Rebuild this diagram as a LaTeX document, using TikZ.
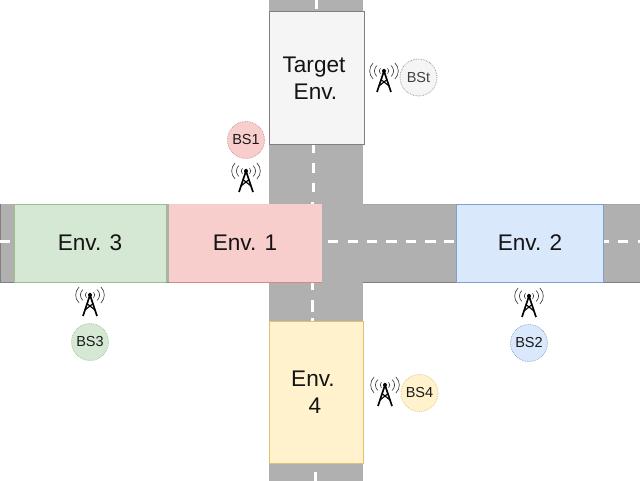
\documentclass[tikz,border=0pt]{standalone}
\usepackage{fontspec}
\setmainfont{Liberation Sans}
\definecolor{road}{HTML}{B0B0B0}
\definecolor{roadedge}{HTML}{7F7F7F}
\definecolor{gfill}{HTML}{D5E8D4}\definecolor{gline}{HTML}{9CC08A}
\definecolor{rfill}{HTML}{F8CECC}\definecolor{rline}{HTML}{D08A87}
\definecolor{bfill}{HTML}{DAE8FC}\definecolor{bline}{HTML}{7F9FCC}
\definecolor{yfill}{HTML}{FFF2CC}\definecolor{yline}{HTML}{DFC26E}
\definecolor{tfill}{HTML}{F5F5F5}
\tikzset{
  x=1pt,y=-1pt,
  roadfill/.style={fill=road,draw=none},
  dashw/.style={draw=white,line width=3pt},
  envbox/.style={rectangle,inner sep=0pt,anchor=north west,draw=#1,line width=0.8pt},
  envlabel/.style={font=\fontsize{22.6}{27}\selectfont,align=center,text=black!92,inner sep=0pt},
  bs/.style={circle,minimum size=37pt,inner sep=0pt,line width=0.7pt,densely dotted,font=\fontsize{14.5}{16}\selectfont,text=black!90},
  pics/tower/.style={code={
    \draw[black,line width=1.7pt,line join=miter] (-7,14) -- (0,-7) -- (7,14);
    \draw[black,line width=1.1pt] (-5,8) -- (2.5,2) (5,8) -- (-2.5,2);
    \fill[black] (0,-7) circle (2pt);
    \foreach \r in {4.5,9,13.5}{
      \draw[black!80,line width=0.6pt] ({-\r*.8},{-7-\r*.6}) .. controls ({-\r*1.15},{-7-\r*.25}) and ({-\r*1.15},{-7+\r*.25}) .. ({-\r*.8},{-7+\r*.6});
      \draw[black!80,line width=0.6pt] ({\r*.8},{-7-\r*.6}) .. controls ({\r*1.15},{-7-\r*.25}) and ({\r*1.15},{-7+\r*.25}) .. ({\r*.8},{-7+\r*.6});
    }
  }}
}
\begin{document}
\begin{tikzpicture}
\useasboundingbox (0,0) rectangle (640,481);
\fill[white] (0,0) rectangle (640,481);
% roads
\path[roadfill] (269,0) rectangle (363,481);
\path[roadfill] (0,204) rectangle (640,283);
\draw[roadedge,line width=1pt] (0,282.5) -- (269,282.5) (363,282.5) -- (640,282.5);
\draw[black!35,line width=0.8pt] (363,204.3) -- (456,204.3) (603,204.3) -- (640,204.3);
\draw[roadedge,line width=1pt] (0.5,204) -- (0.5,283);
% vertical dashes
\foreach \a/\b/\x in {0/9/316,145/153/313.5,163/173/313,183/192/313,202/204/312,283/290/312,300/312/312,318/321/312,472/481/315}{
  \draw[dashw] (\x,\a) -- (\x,\b);
}
% horizontal dashes
\foreach \a/\b in {0/10,328/338,348/358,367/377,386/397,406/416,425/436,444/454,603/609,618/628,638/640}{
  \draw[dashw] (\a,242) -- (\b,242);
}
% environments
\node[envbox=roadedge,fill=tfill,minimum width=94.5pt,minimum height=133pt] (target) at (269,11) {};
\node[envbox=gline,fill=gfill,minimum width=152pt,minimum height=78pt] (env3) at (14,204) {};
\node[rectangle,inner sep=0pt,anchor=north west,minimum width=153pt,minimum height=78.5pt,fill=rfill] (env1) at (169,204) {};
\node[envbox=bline,fill=bfill,minimum width=147pt,minimum height=78pt] (env2) at (456,204) {};
\node[envbox=yline,fill=yfill,minimum width=94pt,minimum height=142pt] (env4) at (269,321) {};
\draw[rline,line width=1pt] (env1.south west) -- (env1.south east);
\node[envlabel] at (314,78) {Target\\\hspace*{3pt}Env.};
\node[envlabel] at (90,243) {Env. 3};
\node[envlabel] at (245,243) {Env. 1};
\node[envlabel] at (530,243) {Env. 2};
\node[envlabel] at (313,392) {Env.\\\hspace*{4pt}4};
% base stations
\node[bs,draw=black!45,fill=tfill,text=black!75] (bst) at (418.5,77.5) {BSt};
\node[bs,draw=rline,fill=rfill] (bs1) at (246,140) {BS1};
\node[bs,draw=gline,fill=gfill] (bs3) at (90,342) {BS3};
\node[bs,draw=bline,fill=bfill] (bs2) at (529,343) {BS2};
\node[bs,draw=yline,fill=yfill] (bs4) at (419.5,393) {BS4};
% towers
\pic at (384,78) {tower};
\pic at (246,178) {tower};
\pic at (90,302) {tower};
\pic at (529,303) {tower};
\pic at (385,392) {tower};
\end{tikzpicture}
\end{document}
